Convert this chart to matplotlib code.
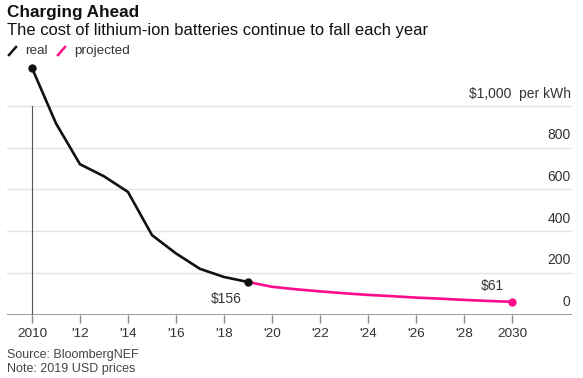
import matplotlib
matplotlib.use('Agg')
import matplotlib.pyplot as plt
from matplotlib.lines import Line2D

plt.rcParams['font.family'] = ['Liberation Sans', 'DejaVu Sans']

# Data (USD per kWh, 2019 prices)
real_years = [2010, 2011, 2012, 2013, 2014, 2015, 2016, 2017, 2018, 2019]
real_prices = [1183, 917, 721, 663, 588, 381, 293, 219, 180, 156]
proj_years = [2019, 2020, 2021, 2022, 2023, 2024, 2025, 2026, 2027, 2028, 2029, 2030]
proj_prices = [156, 133, 121, 111, 102, 94, 88, 81, 76, 70, 65, 61]

y_ticks = [0, 200, 400, 600, 800, 1000]
x_ticks = list(range(2010, 2031, 2))
x_labels = ['2010', "'12", "'14", "'16", "'18", "'20", "'22", "'24", "'26", "'28", '2030']

BLACK = '#111111'
PINK = '#ff0a8c'
GRID = '#e3e3e3'
TEXT = '#333333'

fig = plt.figure(figsize=(5.83, 3.78), dpi=100)
ax = fig.add_axes([7 / 583, 63.5 / 378, 565 / 583, 254.5 / 378])

ax.set_xlim(2008.96, 2032.5)
ax.set_ylim(0, 1221)

# Gridlines and baseline
for v in y_ticks[1:]:
    ax.axhline(v, color=GRID, lw=1.0, zorder=0)
ax.axhline(0, color='#8a8a8a', lw=1.2, zorder=1)
ax.plot([2010, 2010], [0, 1000], color='#555555', lw=0.8, zorder=1)

# Y labels sitting above the gridlines, right side
for v in y_ticks:
    lab = f'{v}' if v != 1000 else '$1,000  per kWh'
    ax.annotate(lab, xy=(1, v), xycoords=('axes fraction', 'data'),
                xytext=(-1, 4), textcoords='offset points',
                ha='right', va='bottom', fontsize=10, color=TEXT)

# Lines
ax.plot(proj_years, proj_prices, color=PINK, lw=1.9, zorder=3,
        solid_capstyle='round')
ax.plot(real_years, real_prices, color=BLACK, lw=1.9, zorder=4,
        solid_joinstyle='miter')
ax.plot([real_years[0], real_years[-1]], [real_prices[0], real_prices[-1]],
        'o', color=BLACK, ms=5, zorder=5)
ax.plot([proj_years[-1]], [proj_prices[-1]], 'o', color=PINK, ms=5, zorder=5)

ax.annotate(f'${real_prices[-1]}', xy=(real_years[-1], real_prices[-1]),
            xytext=(-16, -7), textcoords='offset points',
            ha='center', va='top', fontsize=10, color=TEXT)
ax.annotate(f'${proj_prices[-1]}', xy=(proj_years[-1], proj_prices[-1]),
            xytext=(-14, 6), textcoords='offset points',
            ha='center', va='bottom', fontsize=10, color=TEXT)

# X axis
ax.set_xticks(x_ticks)
ax.set_xticklabels(x_labels)
ax.tick_params(axis='x', length=6, width=1, color='#8a8a8a', pad=4,
               labelsize=9.7, labelcolor=TEXT)
ax.set_yticks([])
for s in ax.spines.values():
    s.set_visible(False)
ax.patch.set_alpha(0)

# Titles
fig.text(7 / 583, 1 - 12 / 378, 'Charging Ahead', fontsize=12.3, fontweight='bold',
         color='#111111', va='center')
fig.text(7 / 583, 1 - 31 / 378,
         'The cost of lithium-ion batteries continue to fall each year',
         fontsize=11.9, color='#111111', va='center')

# Legend
ly = 1 - 51 / 378
fig.add_artist(Line2D([9 / 583, 16 / 583], [ly - 4 / 378, ly + 4 / 378],
                      color=BLACK, lw=1.8, transform=fig.transFigure))
fig.text(25 / 583, ly, 'real', fontsize=9.7, color=TEXT, va='center')
fig.add_artist(Line2D([58 / 583, 65 / 583], [ly - 4 / 378, ly + 4 / 378],
                      color=PINK, lw=1.8, transform=fig.transFigure))
fig.text(74 / 583, ly, 'projected', fontsize=9.7, color=TEXT, va='center')

# Footer
fig.text(7 / 583, 1 - 355 / 378, 'Source: BloombergNEF', fontsize=9,
         color='#444444', va='center')
fig.text(7 / 583, 1 - 369 / 378, 'Note: 2019 USD prices', fontsize=9,
         color='#444444', va='center')

fig.savefig('out.png', dpi=100)
